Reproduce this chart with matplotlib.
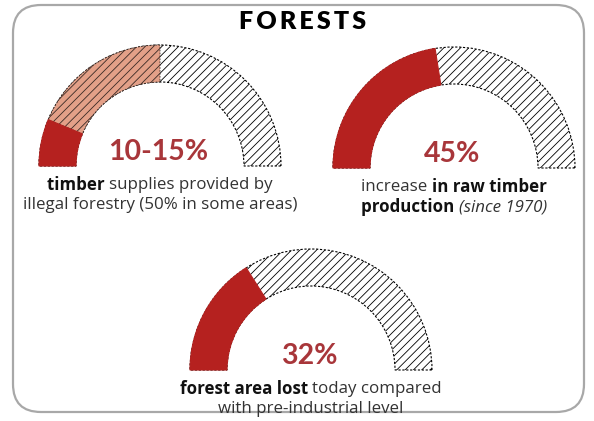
import matplotlib
matplotlib.use("Agg")
import matplotlib.pyplot as plt
from matplotlib.patches import Wedge, FancyBboxPatch

# data
titles = ["10-15%", "45%", "32%"]
dark_values = [12.5, 45, 32]     # share of the half circle, in %
light_values = [50, None, None]  # "50% in some areas"
captions = [
    [[("timber ", "bold", "normal"), ("supplies provided by", "normal", "normal")],
     [("illegal forestry (50% in some areas)", "normal", "normal")]],
    [[("increase ", "normal", "normal"), ("in raw timber", "bold", "normal")],
     [("production ", "bold", "normal"), ("(since 1970)", "normal", "italic")]],
    [[("forest area lost ", "bold", "normal"), ("today compared", "normal", "normal")],
     [("with pre-industrial level", "normal", "normal")]],
]

# layout in pixels (y from top)
W, H = 594, 421
centers = [(160, 166), (454, 168), (311, 370)]
r_out, band = 121, 37
red = "#b5211f"
salmon = "#e3a088"
pct_color = "#a8363a"

plt.rcParams['font.family'] = ['Open Sans', 'DejaVu Sans']
plt.rcParams['hatch.linewidth'] = 0.6

fig = plt.figure(figsize=(W / 100, H / 100), dpi=100)
ax = fig.add_axes([0, 0, 1, 1])
ax.set_xlim(0, W)
ax.set_ylim(0, H)
ax.axis('off')

# rounded frame
frame = FancyBboxPatch((13, 421 - 412), 571, 407, boxstyle="round,pad=0,rounding_size=28",
                       fc="white", ec="#a8a8a8", lw=1.6)
ax.add_patch(frame)

ax.text(303, 421 - 22, "F\u2009O\u2009R\u2009E\u2009S\u2009T\u2009S", ha='center', va='center',
        fontsize=18, fontweight='heavy', family=['Lato', 'DejaVu Sans'], color='black')


def rich_line(x, y, parts, size=12.2):
    texts = []
    for s, w, st in parts:
        t = ax.text(0, y, s, fontsize=size, fontweight=w, fontstyle=st,
                    ha='left', va='center',
                    color='#111111' if w == 'bold' else '#333333')
        texts.append(t)
    r = fig.canvas.get_renderer()
    widths = [t.get_window_extent(r).width for t in texts]
    x0 = x - sum(widths) / 2
    for t, w in zip(texts, widths):
        t.set_x(x0)
        x0 += w


for i, (cx, cy) in enumerate(centers):
    cyy = H - cy
    a_dark = 180 - 180 * dark_values[i] / 100
    # hatched remainder
    ax.add_patch(Wedge((cx, cyy), r_out, 0, 180, width=band, fc='white', ec='black',
                       hatch='////', lw=0.8, ls=(0, (2, 1.5))))
    if light_values[i] is not None:
        a_light = 180 - 180 * light_values[i] / 100
        ax.add_patch(Wedge((cx, cyy), r_out, a_light, a_dark, width=band, fc=salmon,
                           ec='#3a2a25', hatch='////', lw=0.6, ls=(0, (2, 1.5))))
    ax.add_patch(Wedge((cx, cyy), r_out, a_dark, 180, width=band, fc=red, ec=red, lw=0.8))

    ax.text(cx - 2, cyy + 14, titles[i], ha='center', va='center', fontsize=20.5,
            fontweight='bold', family=['Lato', 'DejaVu Sans'], color=pct_color)
    rich_line(cx, cyy - 19, captions[i][0])
    rich_line(cx, cyy - 39, captions[i][1])

fig.savefig("out.png", dpi=100)
